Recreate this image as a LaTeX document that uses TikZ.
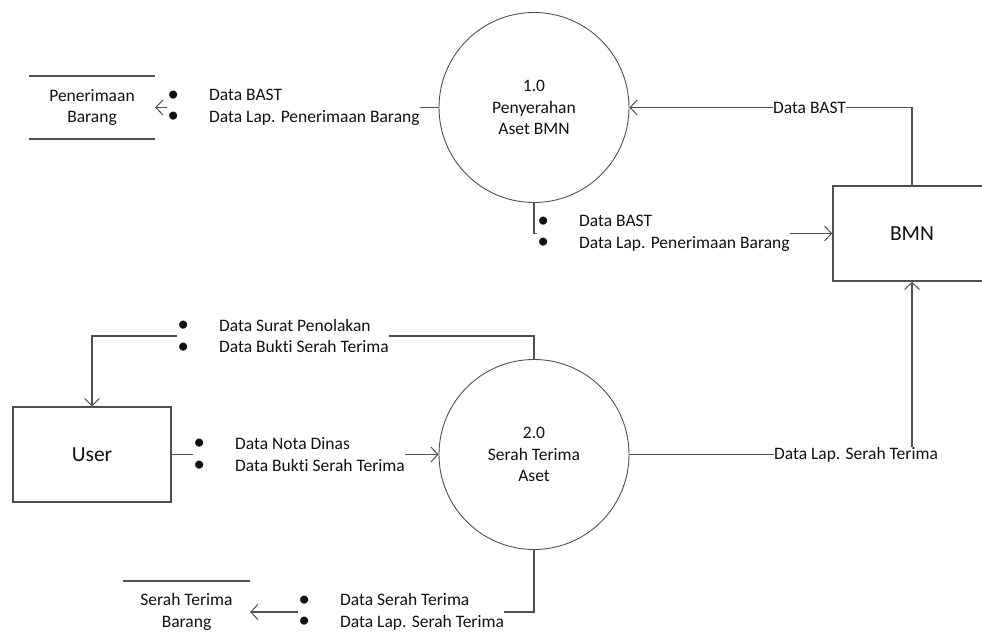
\documentclass[tikz,border=0pt]{standalone}
\usepackage{fontspec}
\setmainfont{Carlito}[Ligatures=NoCommon]
\usetikzlibrary{arrows.meta}

\definecolor{ln}{HTML}{505050}
\definecolor{tx}{HTML}{111111}

% one bulleted line of a flow label: bullet, then the text 36pt further right
\newcommand\bl{\hspace*{6pt}\makebox[0pt]{\raisebox{-0.4pt}{\scalebox{1.3}{\textbullet}}}\hspace{36pt}}

\begin{document}
\begin{tikzpicture}[x=1pt,y=-1pt,
  every node/.style={text=tx, font=\fontsize{17.5}{21.5}\selectfont},
  flow/.style={draw=ln, line width=1.1pt},
  arr/.style={flow, -{Straight Barb[length=7pt,width=15pt,line width=1pt]}},
  proc/.style={circle, draw=ln, line width=0.9pt, minimum size=190pt, inner sep=0pt, align=center},
  ent/.style={draw=ln, line width=1.6pt, rectangle, inner sep=0pt,
              minimum width=158pt, minimum height=95pt,
              font=\fontsize{21.5}{26}\selectfont},
  store/.style={rectangle, inner sep=0pt, align=center},
  storeline/.style={draw=ln, line width=1.6pt},
  blk/.style={fill=white, inner xsep=0pt, inner ysep=1pt, align=left, anchor=west},
  lbl/.style={fill=white, inner sep=0pt}
]
\useasboundingbox (0,0) rectangle (982,642);
\clip (0,0) rectangle (982,642);

% processes
\node[proc] (c1) at (534,107.5) {1.0\\Penyerahan\\Aset BMN};
\node[proc] (c2) at (534,454.5) {2.0\\Serah Terima\\Aset};

% external entities
\node[ent] (bmn) at (912,233.5) {BMN};
\node[ent] (user) at (92,454.5) {User};

% data stores
\node[store, minimum width=126pt, minimum height=63pt] (s1) at (92,107.5) {Penerimaan\\Barang};
\node[store, minimum width=127pt, minimum height=61.5pt] (s2) at (186.5,612) {Serah Terima\\Barang};
\draw[storeline] (s1.north west) -- (s1.north east) (s1.south west) -- (s1.south east);
\draw[storeline] (s2.north west) -- (s2.north east) (s2.south west) -- (s2.south east);

% bend points
\coordinate (k1) at (534,336);

% data flows
\draw[arr] (c1.west) -- (s1.east);
\draw[arr] (c1.south) |- (bmn.west);
\draw[arr] (bmn.north) |- (c1.east);
\draw[arr] (c2.east) -| (bmn.south);
\draw[arr] (c2.north) -- (k1) -| (user.north);
\draw[arr] (user.east) -- (c2.west);
\draw[arr] (c2.south) |- (s2.east);

% flow labels
\node[blk] (la) at (167,107.5) {\bl Data BAST\\\bl Data Lap. Penerimaan Barang};
\node[blk] (lb) at (537,233.5) {\bl Data BAST\\\bl Data Lap. Penerimaan Barang};
\node[lbl] (lc) at (809.5,107.5) {Data BAST};
\node[blk] (ld) at (177,336) {\bl Data Surat Penolakan\\\bl Data Bukti Serah Terima};
\node[blk] (le) at (193,454.5) {\bl Data Nota Dinas\\\bl Data Bukti Serah Terima};
\node[lbl] (lf) at (856,454.5) {Data Lap. Serah Terima};
\node[blk] (lg) at (298,612) {\bl Data Serah Terima\\\bl Data Lap. Serah Terima};
\end{tikzpicture}
\end{document}
